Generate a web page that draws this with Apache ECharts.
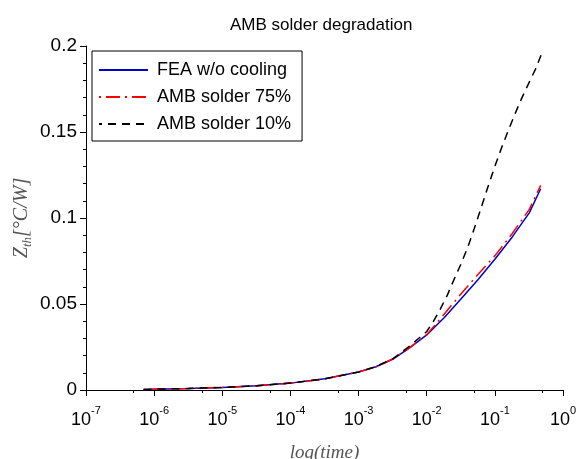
<!DOCTYPE html>
<html><head><meta charset="utf-8">
<script src="https://cdn.jsdelivr.net/npm/echarts@6/dist/echarts.min.js"></script>
<style>html,body{margin:0;padding:0;background:#fff}#c{width:578px;height:459px}</style>
</head><body><div id="c"></div>
<script>
const titleText = 'AMB solder degradation';
const seriesNames = ['FEA w/o cooling', 'AMB solder 75%', 'AMB solder 10%'];
const xName = 'log(time)';
const xMinorTicks = [5e-7, 5e-6, 5e-5, 5e-4, 5e-3, 5e-2, 5e-1];

// FEA w/o cooling and AMB 75% share the same time samples
const timeShared = [7e-7, 1e-6, 3.2e-6, 1e-5, 3.2e-5, 1e-4, 3.2e-4, 1e-3, 1.8e-3, 3.2e-3, 5.6e-3, 1e-2, 1.8e-2, 3.2e-2, 5.6e-2, 0.1, 0.18, 0.32, 0.47];
const zthFea   = [0.0003, 0.0005, 0.0009, 0.0015, 0.0025, 0.0040, 0.0065, 0.0105, 0.0135, 0.018, 0.0245, 0.032, 0.042, 0.053, 0.064, 0.076, 0.089, 0.103, 0.117];
const zthAmb75 = [0.0003, 0.0005, 0.0009, 0.0015, 0.0025, 0.0040, 0.0065, 0.0105, 0.0135, 0.018, 0.0245, 0.0322, 0.044, 0.056, 0.067, 0.078, 0.091, 0.105, 0.119];

const timeAmb10 = [7e-7, 1e-6, 3.2e-6, 1e-5, 3.2e-5, 1e-4, 3.2e-4, 1e-3, 1.8e-3, 3.2e-3, 5.6e-3, 1e-2, 1.26e-2, 1.58e-2, 2e-2, 2.5e-2, 3.16e-2, 4e-2, 5e-2, 6.3e-2, 7.9e-2, 0.1, 0.126, 0.158, 0.2, 0.25, 0.32, 0.4, 0.48];
const zthAmb10  = [0.0003, 0.0005, 0.0009, 0.0015, 0.0025, 0.0040, 0.0065, 0.0105, 0.0136, 0.0182, 0.0255, 0.034, 0.040, 0.047, 0.055, 0.064, 0.073, 0.083, 0.094, 0.106, 0.118, 0.130, 0.141, 0.151, 0.161, 0.170, 0.179, 0.187, 0.195];

const pair = (t, v) => t.map((x, i) => [x, v[i]]);

const SANS = 'Liberation Sans, Arial, sans-serif';
const SERIF = 'Liberation Serif, serif';

const chart = echarts.init(document.getElementById('c'), null, {renderer: 'canvas'});
chart.setOption({
  animation: false,
  backgroundColor: '#fff',
  title: {
    text: titleText, left: 225, top: 12,
    textStyle: {fontSize: 17, fontWeight: 'normal', color: '#000', fontFamily: SANS}
  },
  grid: {left: 86, right: 15, top: 46, bottom: 69, outerBoundsMode: 'none', containLabel: false},
  legend: {
    orient: 'vertical', left: 92, top: 51,
    padding: [10, 11, 8, 6], itemGap: 9, itemWidth: 49, itemHeight: 14,
    borderColor: '#000', borderWidth: 1, backgroundColor: '#fff',
    itemStyle: {opacity: 0},
    textStyle: {fontSize: 18, lineHeight: 18, color: '#000', fontFamily: SANS, padding: [0, 0, 0, 4]},
    data: seriesNames
  },
  xAxis: [{
    type: 'log', logBase: 10, min: 1e-7, max: 1,
    axisLine: {show: true, lineStyle: {color: '#000', width: 1}},
    axisTick: {show: true, length: 6, lineStyle: {color: '#000'}},
    splitLine: {show: false},
    axisLabel: {
      margin: 15, interval: 0, showMinLabel: true, showMaxLabel: true,
      formatter: v => '{b|10}{e|' + Math.round(Math.log10(v)) + '}',
      rich: {
        b: {fontSize: 18, fontFamily: SANS, color: '#000', lineHeight: 24, verticalAlign: 'bottom'},
        e: {fontSize: 11, fontFamily: SANS, color: '#000', lineHeight: 11, verticalAlign: 'top'}
      }
    },
    name: xName, nameLocation: 'middle', nameGap: 53,
    nameTextStyle: {fontSize: 19, fontStyle: 'italic', fontFamily: SERIF, color: '#555'}
  }, {
    type: 'log', logBase: 10, min: 1e-7, max: 1, position: 'bottom',
    axisLine: {show: false}, axisLabel: {show: false}, splitLine: {show: false},
    axisTick: {show: true, length: 3, customValues: xMinorTicks, lineStyle: {color: '#000'}}
  }],
  yAxis: {
    type: 'value', min: 0, max: 0.2, interval: 0.05,
    axisLine: {show: true, lineStyle: {color: '#000', width: 1}},
    axisTick: {show: true, length: 6, lineStyle: {color: '#000'}},
    minorTick: {show: true, splitNumber: 5, length: 3, lineStyle: {color: '#000'}},
    splitLine: {show: false},
    axisLabel: {fontSize: 19, color: '#000', fontFamily: SANS, margin: 9},
    name: '{a|Z}{s|th}{a|[°C/W]}', nameLocation: 'middle', nameGap: 52, nameRotate: 90,
    nameMoveOverlap: false,
    nameTextStyle: {
      color: '#555',
      rich: {
        a: {fontSize: 20, fontStyle: 'italic', fontFamily: SERIF, color: '#555', lineHeight: 24},
        s: {fontSize: 13, fontStyle: 'italic', fontFamily: SERIF, color: '#555', lineHeight: 24, verticalAlign: 'bottom'}
      }
    }
  },
  series: [
    {name: seriesNames[0], type: 'line', xAxisIndex: 0, symbol: 'none', smooth: false,
     lineStyle: {color: '#0000c8', width: 1.5, type: 'solid'}, itemStyle: {color: '#0000c8'},
     data: pair(timeShared, zthFea), z: 2},
    {name: seriesNames[1], type: 'line', xAxisIndex: 0, symbol: 'none', smooth: false,
     lineStyle: {color: '#ff0000', width: 1.5, type: [14, 5, 2, 5], dashOffset: 19}, itemStyle: {color: '#ff0000'},
     data: pair(timeShared, zthAmb75), z: 3},
    {name: seriesNames[2], type: 'line', xAxisIndex: 0, symbol: 'none', smooth: false,
     lineStyle: {color: '#000', width: 1.5, type: [8, 6]}, itemStyle: {color: '#000'},
     data: pair(timeAmb10, zthAmb10), z: 4}
  ]
});
</script>
</body></html>
